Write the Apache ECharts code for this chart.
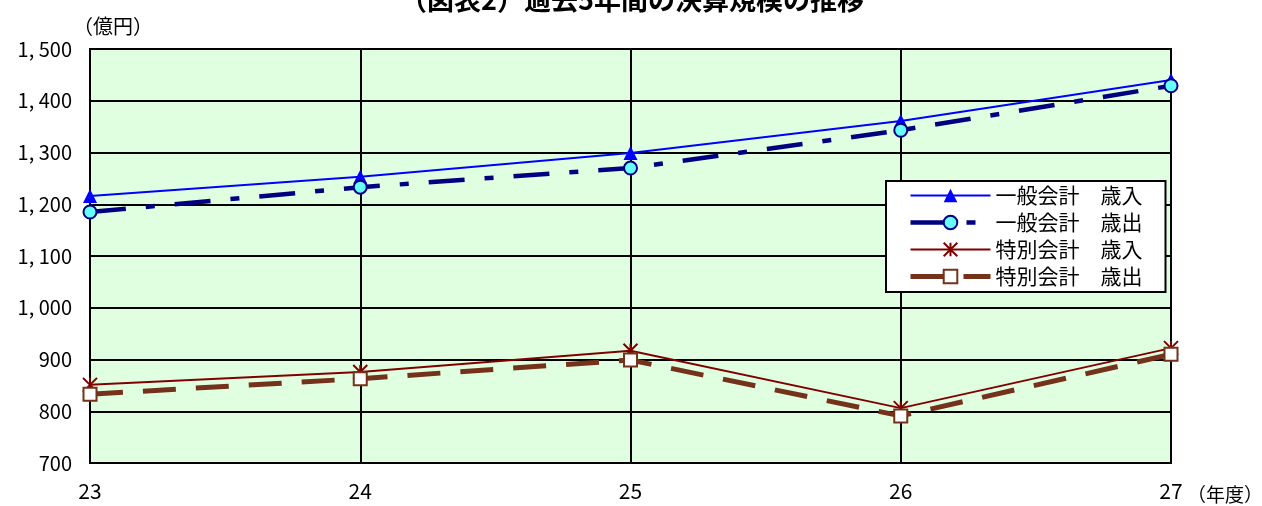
<!DOCTYPE html>
<html>
<head>
<meta charset="utf-8">
<script src="https://cdn.jsdelivr.net/npm/echarts@6/dist/echarts.min.js"></script>
<style>
  html, body { margin: 0; padding: 0; background: #fff; }
  #chart { width: 1262px; height: 506px; }
</style>
</head>
<body>
<div id="chart"></div>
<script>
// 年度（平成）
const years = ['23', '24', '25', '26', '27'];

// 決算額（億円）
const generalRevenue = [1216, 1253, 1299, 1361, 1440];
const generalExpenditure = [1185, 1233, 1270, 1343, 1429];
const specialRevenue = [851, 876, 917, 806, 922];
const specialExpenditure = [833, 863, 899, 791, 910];

const seriesNames = ['一般会計　歳入', '一般会計　歳出', '特別会計　歳入', '特別会計　歳出'];

const yTicks = { min: 700, max: 1500, step: 100 };

const FONT = '"Noto Sans CJK JP", sans-serif';

// 1,500 -> "1, 500"
function fmt(v) {
  const s = String(v);
  return s.length > 3 ? s.slice(0, s.length - 3) + ', ' + s.slice(-3) : s;
}

const chart = echarts.init(document.getElementById('chart'), null, { renderer: 'canvas' });

chart.setOption({
  animation: false,
  backgroundColor: '#ffffff',
  grid: {
    left: 90, right: 91, top: 49, bottom: 43,
    show: true,
    backgroundColor: '#E0FFE0',
    borderColor: '#000',
    borderWidth: 2
  },
  graphic: [
    {
      type: 'text', x: 632, y: -14,
      style: { text: '（図表2）過去5年間の決算規模の推移', font: 'bold 27px ' + FONT, fill: '#000', align: 'center' }
    },
    {
      type: 'text', x: 113, y: 26,
      style: { text: '（億円）', font: '20px ' + FONT, fill: '#000', align: 'center', verticalAlign: 'middle' }
    },
    {
      type: 'text', x: 1225, y: 495,
      style: { text: '（年度）', font: '19px ' + FONT, fill: '#000', align: 'center', verticalAlign: 'middle' }
    }
  ],
  legend: {
    orient: 'vertical',
    left: 886, top: 181,
    width: 281,
    backgroundColor: '#fff',
    borderColor: '#000',
    borderWidth: 2,
    padding: [4, 23, 5, 22],
    itemWidth: 80,
    itemHeight: 17,
    itemGap: 6,
    lineStyle: { width: 'inherit' },
    textStyle: { fontFamily: FONT, fontSize: 21, lineHeight: 20, color: '#000' },
    data: seriesNames
  },
  xAxis: {
    type: 'category',
    data: years,
    boundaryGap: false,
    axisLine: { lineStyle: { color: '#000', width: 2 } },
    axisTick: { show: false },
    axisLabel: { margin: 18, fontFamily: FONT, fontSize: 21, color: '#000' },
    splitLine: { show: true, lineStyle: { color: '#000', width: 2 } }
  },
  yAxis: {
    type: 'value',
    min: yTicks.min, max: yTicks.max, interval: yTicks.step,
    axisLine: { show: true, lineStyle: { color: '#000', width: 2 } },
    axisTick: { show: false },
    axisLabel: { margin: 18, fontFamily: FONT, fontSize: 20, color: '#000', formatter: fmt },
    splitLine: { show: true, lineStyle: { color: '#000', width: 2 } }
  },
  series: [
    {
      name: seriesNames[0], type: 'line', data: generalRevenue,
      symbol: 'triangle', symbolSize: [14, 14],
      lineStyle: { color: '#0000FF', width: 2 },
      itemStyle: { color: '#0000FF' }
    },
    {
      name: seriesNames[1], type: 'line', data: generalExpenditure,
      symbol: 'circle', symbolSize: 13,
      lineStyle: { color: '#000080', width: 4.5, type: [36, 20, 9, 20] },
      itemStyle: { color: '#66FFFF', borderColor: '#000080', borderWidth: 2 }
    },
    {
      name: seriesNames[2], type: 'line', data: specialRevenue,
      symbol: 'path://M0,0L20,20M20,0L0,20M10,0L10,20', symbolSize: 14,
      lineStyle: { color: '#800000', width: 2 },
      itemStyle: { color: 'transparent', borderColor: '#800000', borderWidth: 2 }
    },
    {
      name: seriesNames[3], type: 'line', data: specialExpenditure,
      symbol: 'rect', symbolSize: 13,
      lineStyle: { color: '#74321A', width: 5, type: [33, 20] },
      itemStyle: { color: '#fff', borderColor: '#74321A', borderWidth: 2 }
    }
  ]
});
</script>
</body>
</html>
